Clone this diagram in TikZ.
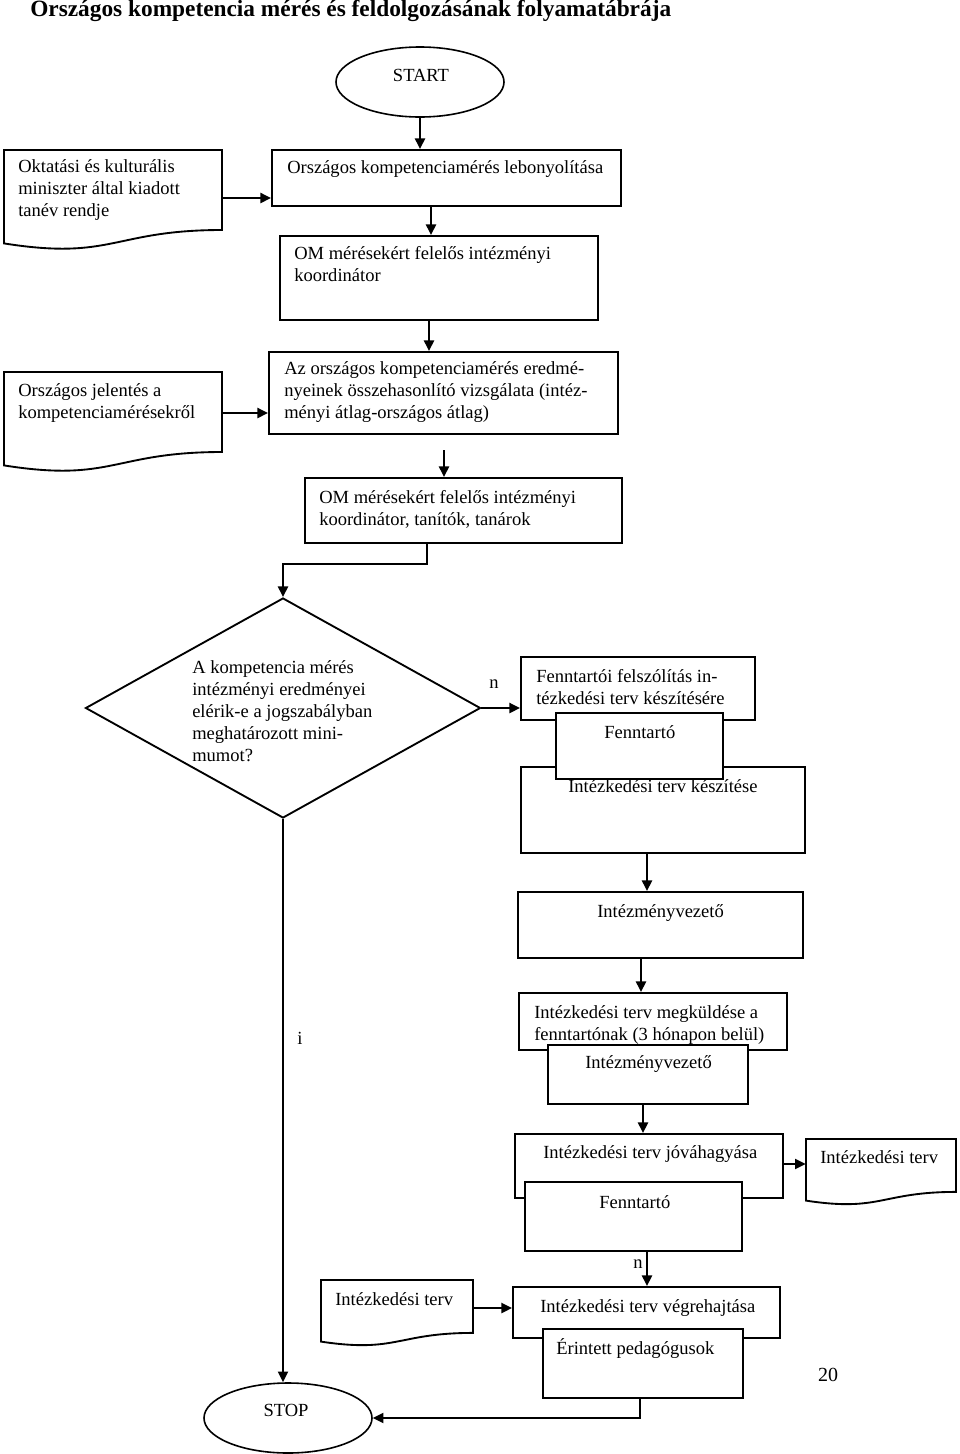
\documentclass[tikz,border=0pt]{standalone}
\usepackage{fontspec}
\setmainfont{Liberation Serif}
\usetikzlibrary{shapes.geometric,fit,arrows.meta}
\newcommand\mlines[1]{\begin{tabular}[t]{@{}l@{}}#1\end{tabular}}
\begin{document}
\begin{tikzpicture}[x=0.75pt,y=-0.75pt,
  every node/.style={font=\fontsize{13.9}{16.5}\selectfont, inner sep=0pt},
  box/.style={draw, fill=white, line width=1.4pt, inner sep=0pt},
  hidden/.style={inner sep=0pt},
  txt/.style={anchor=base west},
  doc/.style={draw, fill=white, line width=1.4pt, line join=miter},
  arr/.style={line width=1.6pt, -{Triangle[length=8pt,width=7.5pt]}},
  term/.style={ellipse, draw, line width=1.2pt, inner sep=0pt},
]
\useasboundingbox (0,0) rectangle (960,1454);

% title
\node[anchor=base west, font=\fontsize{17.5}{20}\selectfont\bfseries] (title) at (30,16)
  {Országos kompetencia mérés és feldolgozásának folyamatábrája};

% START
\node[term, minimum width=126pt, minimum height=52.5pt] (start) at (420,82) {};
\node (startt) at (421,75) {START};

% document 1
\node[hidden, fit={(4,150) (222,230)}] (d1) {};
\draw[doc] (4,150) -- (222,150) -- (222,230) .. controls (113,230) and (113,260.7) .. (4,243.4) -- cycle;
\node[txt] (d1t) at (18,172) {\mlines{Oktatási és kulturális\\miniszter által kiadott\\tanév rendje}};

% box 1
\node[box, fit={(272,150) (621,206)}] (b1) {};
\node[txt] (b1t) at (287,173) {Országos kompetenciamérés lebonyolítása};

% box 2
\node[box, fit={(280,236) (598,320)}] (b2) {};
\node[txt] (b2t) at (294,259) {\mlines{OM mérésekért felelős intézményi\\koordinátor}};

% box 3
\node[box, fit={(269,352) (618,434)}] (b3) {};
\node[txt] (b3t) at (284,374) {\mlines{Az országos kompetenciamérés eredmé-\\nyeinek összehasonlító vizsgálata (intéz-\\ményi átlag-országos átlag)}};

% document 2
\node[hidden, fit={(4,372) (222,452)}] (d2) {};
\draw[doc] (4,372) -- (222,372) -- (222,452) .. controls (113,452) and (113,482.7) .. (4,465.4) -- cycle;
\node[txt] (d2t) at (18,396) {\mlines{Országos jelentés a\\kompetenciamérésekről}};

% box 4
\node[box, fit={(305,478) (622,543)}] (b4) {};
\node[txt] (b4t) at (319,503) {\mlines{OM mérésekért felelős intézményi\\koordinátor, tanítók, tanárok}};

% decision
\node[diamond, draw, line width=1.4pt, inner sep=0pt, shape aspect=1.8,
  minimum width=296.25pt, minimum height=165pt] (q) at (283,708) {};
\node[txt] (qt) at (192,673) {\mlines{A kompetencia mérés\\intézményi eredményei\\elérik-e a jogszabályban\\meghatározott mini-\\mumot?}};

% box 5 group
\node[box, fit={(521,657) (755,720)}] (b5) {};
\node[txt] (b5t) at (536,682) {\mlines{Fenntartói felszólítás in-\\tézkedési terv készítésére}};
\node[box, fit={(521,767) (805,853)}] (b7) {};
\node[box, fit={(556,713) (723,779)}] (b6) {};
\node[txt] (b6t) at (604,738) {Fenntartó};
\node[txt] (b7t) at (568,792) {Intézkedési terv készítése};

% box 8
\node[box, fit={(518,892) (803,958)}] (b8) {};
\node[txt] (b8t) at (597,917) {Intézményvezető};

% box 9 + 10
\node[box, fit={(519,993) (787,1050)}] (b9) {};
\node[txt] (b9t) at (534,1018) {\mlines{Intézkedési terv megküldése a\\fenntartónak (3 hónapon belül)}};
\node[box, fit={(548,1045) (748,1104)}] (b10) {};
\node[txt] (b10t) at (585,1068) {Intézményvezető};

% box 11 + 12
\node[box, fit={(515,1134) (783,1198)}] (b11) {};
\node[txt] (b11t) at (543,1158) {Intézkedési terv jóváhagyása};
\node[box, fit={(525,1182) (742,1251)}] (b12) {};
\node[txt] (b12t) at (599,1208) {Fenntartó};

% document 3
\node[hidden, fit={(806,1139) (956,1192)}] (d3) {};
\draw[doc] (806,1139) -- (956,1139) -- (956,1191.9) .. controls (881,1191.9) and (881,1212.1) .. (806,1200.6) -- cycle;
\node[txt] (d3t) at (820,1163) {Intézkedési terv};

% document 4
\node[hidden, fit={(321,1280) (473,1333)}] (d4) {};
\draw[doc] (321,1280) -- (473,1280) -- (473,1332.9) .. controls (397,1332.9) and (397,1353.1) .. (321,1341.6) -- cycle;
\node[txt] (d4t) at (335,1305) {Intézkedési terv};

% box 13 + 14
\node[box, fit={(513,1287) (780,1338)}] (b13) {};
\node[txt] (b13t) at (540,1312) {Intézkedési terv végrehajtása};
\node[box, fit={(543,1329) (743,1398)}] (b14) {};
\node[txt] (b14t) at (556,1354) {Érintett pedagógusok};

% STOP
\node[term, minimum width=126pt, minimum height=52.5pt] (stop) at (288,1418) {};
\node (stopt) at (286,1410) {STOP};

% labels
\node (ln1) at (494,684) {n};
\node (li) at (300,1038) {i};
\node (ln2) at (638,1264) {n};
\node[font=\fontsize{15}{18}\selectfont] (pg) at (828,1375) {20};

% connectors
\coordinate (g1) at (444,450);
\draw[arr] (start.south) -- (b1.north -| start.south);
\draw[arr] (d1.east |- 0,198) -- (b1.west |- 0,198);
\draw[arr] (b1.south -| 431,0) -- (b2.north -| 431,0);
\draw[arr] (b2.south -| 429,0) -- (b3.north -| 429,0);
\draw[arr] (d2.east |- 0,413) -- (b3.west |- 0,413);
\draw[arr] (g1) -- (b4.north -| g1);
\draw[arr] (b4.south -| 427,0) -- ++(0,20) -| (q.north);
\draw[arr] (q.east) -- (b5.west |- q.east);
\draw[arr] (b7.south -| 647,0) -- (b8.north -| 647,0);
\draw[arr] (b8.south -| 641,0) -- (b9.north -| 641,0);
\draw[arr] (b10.south -| 643,0) -- (b11.north -| 643,0);
\draw[arr] (b11.east |- 0,1164) -- (d3.west |- 0,1164);
\draw[arr] (b12.south -| 647,0) -- (b13.north -| 647,0);
\draw[arr] (d4.east |- 0,1308) -- (b13.west |- 0,1308);
\draw[arr] (b14.south -| 640,0) |- (stop.east);
\draw[arr] (q.south) -- (q.south |- stop.north);
\end{tikzpicture}
\end{document}
